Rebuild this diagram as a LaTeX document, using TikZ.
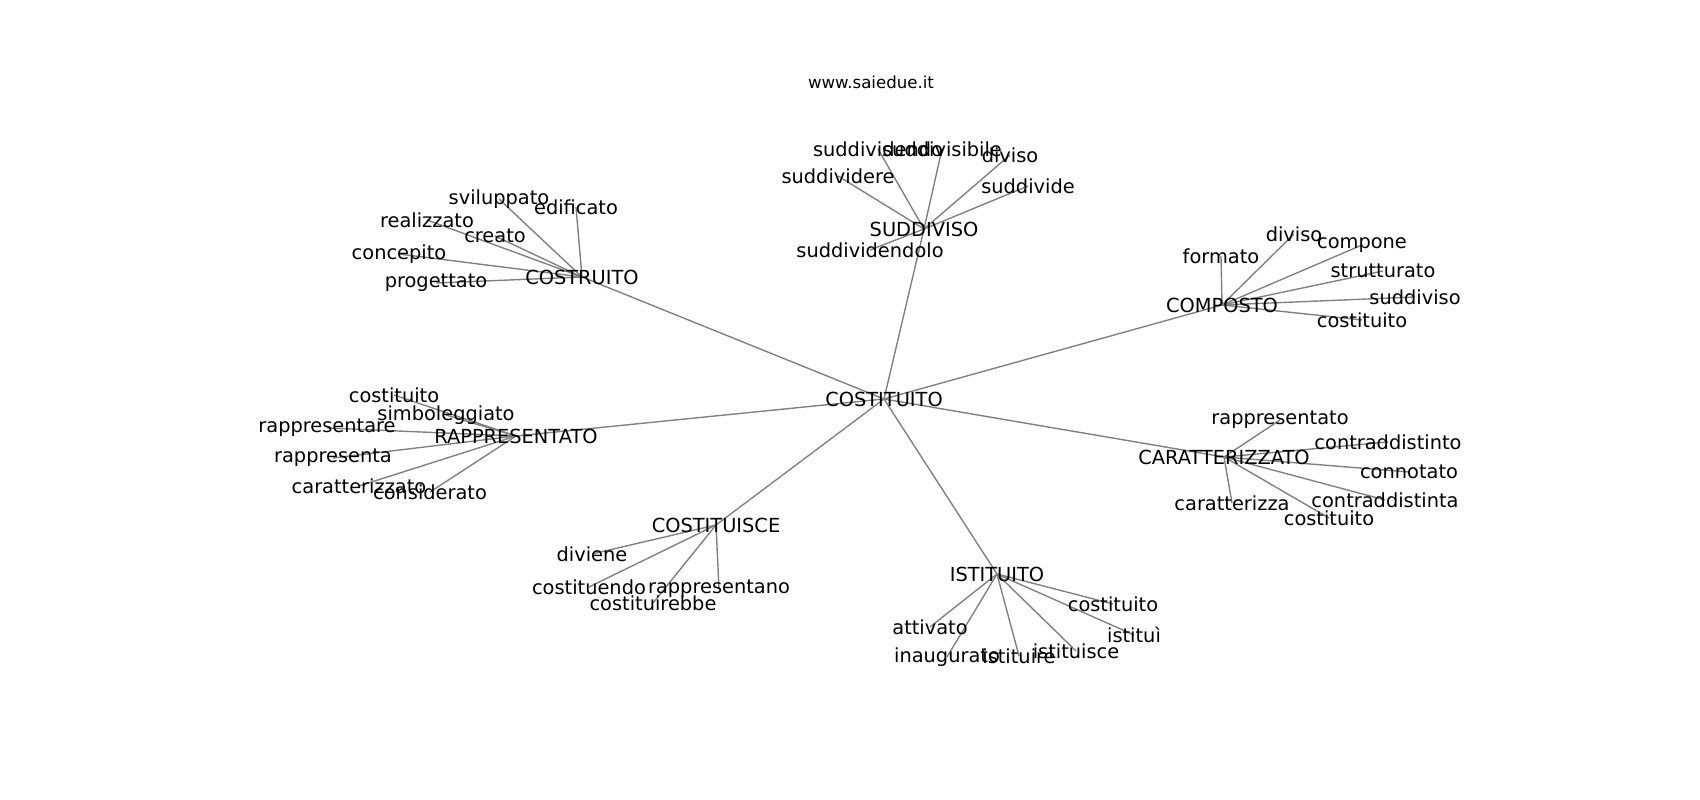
\documentclass[tikz,border=0pt]{standalone}
\usepackage{fontspec}
\setmainfont{DejaVu Sans}
\usetikzlibrary{
    backgrounds       % For drawing the edges behind the labels
}

\begin{document}
\begin{tikzpicture}[
    % Global style settings: one unit is one pixel of the 1700x800 canvas
    x=0.01in, y=-0.01in,
    edge_style/.style={
        color=gray,
        line width=1pt
    },
    word_style/.style={ % Style for every word of the graph
        font=\fontsize{14}{16}\selectfont,
        inner sep=0pt
    },
    title_style/.style={ % Style for the site name on top
        font=\fontsize{12}{14}\selectfont,
        inner sep=0pt
    }
]
    \useasboundingbox (0,0) rectangle (1700,800);

    % 1. Title and central word.
    \node[title_style] (title) at (871,82) {www.saiedue.it};
    \node[word_style] (costituito) at (884,399) {COSTITUITO};

    % 2. The seven hub words.
    \node[word_style] (suddiviso) at (924,229) {SUDDIVISO};
    \node[word_style] (costruito) at (582,277) {COSTRUITO};
    \node[word_style] (composto) at (1222,305) {COMPOSTO};
    \node[word_style] (rappresentato) at (516,436) {RAPPRESENTATO};
    \node[word_style] (caratterizzato) at (1224,457) {CARATTERIZZATO};
    \node[word_style] (costituisce) at (716,525) {COSTITUISCE};
    \node[word_style] (istituito) at (997,574) {ISTITUITO};

    % 3. Leaves of SUDDIVISO.
    \node[word_style] (sud_dividendo) at (878,149) {suddividendo};
    \node[word_style] (sud_divisibile) at (942,149) {suddivisibile};
    \node[word_style] (sud_diviso) at (1010,155) {diviso};
    \node[word_style] (sud_dividere) at (838,176) {suddividere};
    \node[word_style] (sud_divide) at (1028,186) {suddivide};
    \node[word_style] (sud_dividendolo) at (870,250) {suddividendolo};

    % 4. Leaves of COSTRUITO.
    \node[word_style] (cos_sviluppato) at (499,199) {sviluppato};
    \node[word_style] (cos_edificato) at (576,207) {edificato};
    \node[word_style] (cos_realizzato) at (427,220) {realizzato};
    \node[word_style] (cos_creato) at (495,236) {creato};
    \node[word_style] (cos_concepito) at (399,254) {concepito};
    \node[word_style] (cos_progettato) at (436,283) {progettato};

    % 5. Leaves of COMPOSTO.
    \node[word_style] (com_diviso) at (1294,234) {diviso};
    \node[word_style] (com_compone) at (1362,245) {compone};
    \node[word_style] (com_formato) at (1221,256) {formato};
    \node[word_style] (com_strutturato) at (1383,271) {strutturato};
    \node[word_style] (com_suddiviso) at (1415,297) {suddiviso};
    \node[word_style] (com_costituito) at (1362,320) {costituito};

    % 6. Leaves of RAPPRESENTATO.
    \node[word_style] (rap_costituito) at (394,395) {costituito};
    \node[word_style] (rap_simboleggiato) at (446,415) {simboleggiato};
    \node[word_style] (rap_rappresentare) at (327,428) {rappresentare};
    \node[word_style] (rap_rappresenta) at (333,458) {rappresenta};
    \node[word_style] (rap_caratterizzato) at (359,486) {caratterizzato};
    \node[word_style] (rap_considerato) at (430,492) {considerato};

    % 7. Leaves of CARATTERIZZATO.
    \node[word_style] (car_rappresentato) at (1280,420) {rappresentato};
    \node[word_style] (car_contraddistinto) at (1388,442) {contraddistinto};
    \node[word_style] (car_connotato) at (1409,472) {connotato};
    \node[word_style] (car_contraddistinta) at (1385,500) {contraddistinta};
    \node[word_style] (car_caratterizza) at (1232,503) {caratterizza};
    \node[word_style] (car_costituito) at (1329,518) {costituito};

    % 8. Leaves of COSTITUISCE.
    \node[word_style] (cst_diviene) at (592,554) {diviene};
    \node[word_style] (cst_costituendo) at (589,587) {costituendo};
    \node[word_style] (cst_rappresentano) at (719,589) {rappresentano};
    \node[word_style] (cst_costituirebbe) at (653,603) {costituirebbe};

    % 9. Leaves of ISTITUITO.
    \node[word_style] (ist_costituito) at (1113,604) {costituito};
    \node[word_style] (ist_attivato) at (930,627) {attivato};
    \node[word_style] (ist_istitui) at (1134,635) {istituì};
    \node[word_style] (ist_istituisce) at (1076,651) {istituisce};
    \node[word_style] (ist_inaugurato) at (947,657) {inaugurato};
    \node[word_style] (ist_istituire) at (1019,656) {istituire};

    % 10. Edges, centre to centre, behind the words.
    \begin{pgfonlayer}{background}
    \foreach \hub in {suddiviso, costruito, composto, rappresentato, caratterizzato, costituisce, istituito}
        \draw[edge_style] (costituito.center) -- (\hub.center);
    \foreach \leaf in {dividendo, divisibile, diviso, dividere, divide, dividendolo}
        \draw[edge_style] (suddiviso.center) -- (sud_\leaf.center);
    \foreach \leaf in {sviluppato, edificato, realizzato, creato, concepito, progettato}
        \draw[edge_style] (costruito.center) -- (cos_\leaf.center);
    \foreach \leaf in {diviso, compone, formato, strutturato, suddiviso, costituito}
        \draw[edge_style] (composto.center) -- (com_\leaf.center);
    \foreach \leaf in {costituito, simboleggiato, rappresentare, rappresenta, caratterizzato, considerato}
        \draw[edge_style] (rappresentato.center) -- (rap_\leaf.center);
    \foreach \leaf in {rappresentato, contraddistinto, connotato, contraddistinta, caratterizza, costituito}
        \draw[edge_style] (caratterizzato.center) -- (car_\leaf.center);
    \foreach \leaf in {diviene, costituendo, rappresentano, costituirebbe}
        \draw[edge_style] (costituisce.center) -- (cst_\leaf.center);
    \foreach \leaf in {costituito, attivato, istitui, istituisce, inaugurato, istituire}
        \draw[edge_style] (istituito.center) -- (ist_\leaf.center);
    \end{pgfonlayer}

\end{tikzpicture}
\end{document}
